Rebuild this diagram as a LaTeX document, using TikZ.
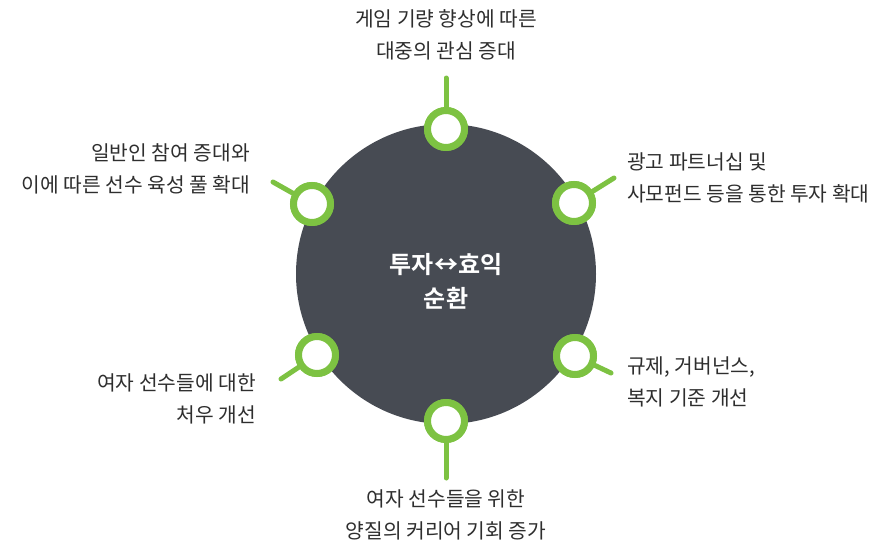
\documentclass[tikz,border=0pt]{standalone}
\usepackage{fontspec}
\setmainfont{Noto Sans CJK KR}
\newfontfamily\krb{Noto Sans CJK KR Bold}
\definecolor{dark}{HTML}{474B53}
\definecolor{lime}{HTML}{7DC242}
\definecolor{txt}{HTML}{2E2E2E}
\begin{document}
\begin{tikzpicture}[x=1pt,y=-1pt,
  ring/.style={circle,draw=lime,line width=7pt,fill=white,minimum size=37pt,inner sep=0pt},
  stem/.style={draw=lime,line width=5pt,line cap=round},
  lbl/.style={text=txt,font=\fontsize{20.3}{31.5}\selectfont,inner sep=0pt}]
\useasboundingbox (0,0) rectangle (892,549);
\node[circle,fill=dark,minimum size=300pt,inner sep=0pt] (hub) at (446,274) {};
\node[text=white,font=\krb\fontsize{24}{34}\selectfont,align=center] (ctr) at (446,281) {투자↔효익\\순환};
% rings
\node[ring] (r1) at (446,129) {};
\node[ring] (r2) at (574,203) {};
\node[ring] (r3) at (575,356) {};
\node[ring] (r4) at (446,421) {};
\node[ring] (r5) at (317,355) {};
\node[ring] (r6) at (312,204) {};
% stem ends
\coordinate (e1) at (446,78);
\coordinate (e2) at (614,178);
\coordinate (e3) at (611,373);
\coordinate (e4) at (446,478);
\coordinate (e5) at (281,379);
\coordinate (e6) at (273,182);
\foreach \i in {1,...,6} {\draw[stem] (r\i) -- (e\i);}
\foreach \i in {1,...,6} {\node[ring] at (r\i) {};}
% labels
\node[lbl,align=center,anchor=center] (t1) at (446,35) {게임 기량 향상에 따른\\대중의 관심 증대};
\node[lbl,align=left,anchor=west] (t2) at (627,178) {광고 파트너십 및\\사모펀드 등을 통한 투자 확대};
\node[lbl,align=left,anchor=west] (t3) at (627,382) {규제, 거버넌스,\\복지 기준 개선};
\node[lbl,align=center,anchor=center] (t4) at (446,515) {여자 선수들을 위한\\양질의 커리어 기회 증가};
\node[lbl,align=right,anchor=east] (t5) at (256,399) {여자 선수들에 대한\\처우 개선};
\node[lbl,align=right,anchor=east] (t6) at (250,169) {일반인 참여 증대와\\이에 따른 선수 육성 풀 확대};
\end{tikzpicture}
\end{document}
